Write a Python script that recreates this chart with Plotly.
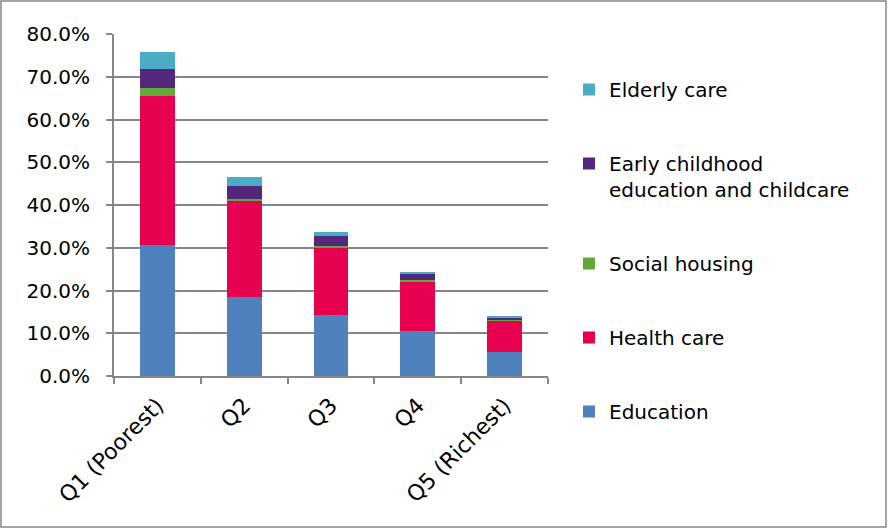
import plotly.graph_objects as go

categories = ["Q1 (Poorest)", "Q2", "Q3", "Q4", "Q5 (Richest)"]
education = [30.6, 18.5, 14.3, 10.5, 5.7]
health_care = [35.0, 22.4, 15.8, 11.7, 7.2]
social_housing = [1.8, 0.5, 0.4, 0.3, 0.2]
early_childhood = [4.4, 3.0, 2.3, 1.4, 0.5]
elderly_care = [4.0, 2.1, 0.9, 0.4, 0.3]

series = [
    ("Education", education, "#4F81BD"),
    ("Health care", health_care, "#E6004F"),
    ("Social housing", social_housing, "#62A83A"),
    ("Early childhood<br>education and childcare", early_childhood, "#53277C"),
    ("Elderly care", elderly_care, "#4BACC6"),
]

FONT = "DejaVu Sans"
fig = go.Figure()
n = len(series)
for i, (name, vals, color) in enumerate(series):
    fig.add_trace(go.Bar(
        x=categories, y=vals, name=name, legendgroup=f"g{i}",
        legendrank=n - i,
        marker=dict(color=color, line=dict(width=0)),
    ))

L, R, T, B = 114, 548, 34, 376
W, H = 888, 528
pw, ph = R - L, B - T

fig.update_layout(
    width=W, height=H,
    margin=dict(l=L, r=W - R, t=T, b=H - B, pad=0),
    barmode="stack", bargap=0.6,
    paper_bgcolor="white", plot_bgcolor="white",
    font=dict(family=FONT, size=20, color="#000000"),
    showlegend=True,
    legend=dict(
        x=(569 - L) / pw, xanchor="left",
        y=(B - 70) / ph, yanchor="top",
        traceorder="grouped", tracegroupgap=45,
        valign="top", maxheight=480,
        font=dict(family=FONT, size=20, color="#000000"),
        bgcolor="rgba(0,0,0,0)",
    ),
    xaxis=dict(
        showline=True, linecolor="#868686", linewidth=2,
        ticks="outside", ticklen=6, tickcolor="#868686", tickwidth=2,
        tickson="boundaries", tickangle=-45, ticklabelstandoff=6,
        tickfont=dict(family=FONT, size=22, color="#000000"),
        showgrid=False,
    ),
    yaxis=dict(
        range=[0, 80], dtick=10, tickformat=".1f", ticksuffix="%",
        showline=True, linecolor="#868686", linewidth=2,
        ticks="outside", ticklen=6, tickcolor="#868686", tickwidth=2,
        ticklabelstandoff=12,
        showgrid=True, gridcolor="#868686", gridwidth=2,
        tickfont=dict(family=FONT, size=20, color="#000000"),
        zeroline=False,
    ),
    shapes=[dict(
        type="rect", xref="paper", yref="paper",
        x0=(1 - L) / pw, x1=(886 - L) / pw,
        y0=(B - 527) / ph, y1=(B - 1) / ph,
        line=dict(color="#868686", width=1.5), fillcolor="rgba(0,0,0,0)",
        layer="below",
    )],
)

fig.write_html("out.html")
